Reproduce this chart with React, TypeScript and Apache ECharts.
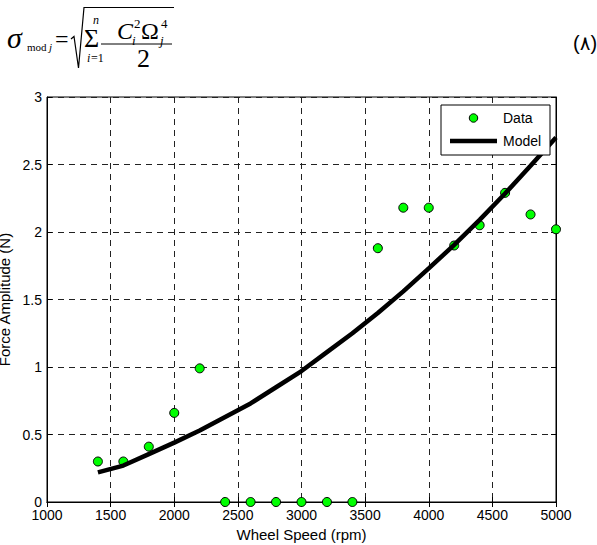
import React, { useEffect, useRef } from "react";
import * as echarts from "echarts";

const speeds = [1400, 1600, 1800, 2000, 2200, 2400, 2600, 2800, 3000, 3200, 3400, 3600, 3800, 4000, 4200, 4400, 4600, 4800, 5000];
const dataValues = [0.3, 0.3, 0.41, 0.66, 0.99, 0, 0, 0, 0, 0, 0, 1.88, 2.18, 2.18, 1.9, 2.05, 2.29, 2.13, 2.02];
const modelValues = [0.22, 0.27, 0.355, 0.44, 0.53, 0.63, 0.73, 0.85, 0.97, 1.11, 1.25, 1.4, 1.56, 1.73, 1.905, 2.09, 2.285, 2.49, 2.7];
const xTicks = [1000, 5000, 500];
const yTicks = [0, 3, 0.5];
const legendNames = ["Data", "Model"];

const SERIF = "'Liberation Serif', 'Times New Roman', serif";
const SANS = "'Liberation Sans', Arial, Helvetica, sans-serif";

function txt(text: string, x: number, baseline: number, size: number, italic = false, family = SERIF) {
  return {
    type: "text",
    x,
    y: baseline - 0.32 * size,
    z: 10,
    style: {
      text,
      fontSize: size,
      fontFamily: family,
      fontStyle: italic ? "italic" : "normal",
      fill: "#000",
      verticalAlign: "middle",
      align: "left",
    },
  };
}

export default function App() {
  const ref = useRef<HTMLDivElement>(null);
  useEffect(() => {
    document.body.style.margin = "0";
    const chart = echarts.init(ref.current!, null, { renderer: "svg" });
    const axisCommon = {
      type: "value",
      axisLine: { show: true, lineStyle: { color: "#000", width: 1 } },
      axisTick: { show: true, inside: true, length: 5, lineStyle: { color: "#000" } },
    };
    const option: any = {
      animation: false,
      backgroundColor: "#fff",
      grid: {
        left: 47, right: 41, top: 97, bottom: 43,
        outerBoundsMode: "none", containLabel: false,
        show: true, borderColor: "#000", borderWidth: 1, backgroundColor: "transparent",
      },
      xAxis: [
        {
          ...axisCommon,
          position: "bottom",
          min: xTicks[0],
          max: xTicks[1],
          interval: xTicks[2],
          name: "Wheel Speed (rpm)",
          nameLocation: "middle",
          nameGap: 23,
          nameTextStyle: { fontFamily: SANS, fontSize: 15, color: "#000" },
          axisLabel: { fontFamily: SANS, fontSize: 14, color: "#000", margin: 6, formatter: (v: number) => String(v) },
          splitLine: { show: true, lineStyle: { color: "#222", type: [6, 5], width: 1 } },
        },
        {
          ...axisCommon,
          position: "top",
          min: xTicks[0],
          max: xTicks[1],
          interval: xTicks[2],
          axisLabel: { show: false },
          splitLine: { show: false },
        },
      ],
      yAxis: [
        {
          ...axisCommon,
          position: "left",
          min: yTicks[0],
          max: yTicks[1],
          interval: yTicks[2],
          name: "Force Amplitude (N)",
          nameLocation: "middle",
          nameGap: 33,
          nameTextStyle: { fontFamily: SANS, fontSize: 15, color: "#000" },
          axisLabel: { fontFamily: SANS, fontSize: 14, color: "#000", margin: 5, formatter: (v: number) => String(v) },
          splitLine: { show: true, lineStyle: { color: "#222", type: [6, 5], width: 1 } },
        },
        {
          ...axisCommon,
          position: "right",
          min: yTicks[0],
          max: yTicks[1],
          interval: yTicks[2],
          axisLabel: { show: false },
          splitLine: { show: false },
        },
      ],
      series: [
        {
          name: legendNames[0],
          type: "scatter",
          data: speeds.map((s, i) => [s, dataValues[i]]),
          symbol: "circle",
          symbolSize: 9,
          itemStyle: { color: "#00ff00", borderColor: "#000", borderWidth: 1, opacity: 1 },
          z: 2,
        },
        {
          name: legendNames[1],
          type: "line",
          data: speeds.map((s, i) => [s, modelValues[i]]),
          showSymbol: false,
          symbol: "none",
          lineStyle: { color: "#000", width: 4.5 },
          z: 3,
        },
      ],
      graphic: [
        // legend
        { type: "rect", z: 20, shape: { x: 441, y: 105, width: 109, height: 50 }, style: { fill: "#fff", stroke: "#000", lineWidth: 1 } },
        { type: "circle", z: 21, shape: { cx: 473.5, cy: 118, r: 4.2 }, style: { fill: "#00ff00", stroke: "#000", lineWidth: 1 } },
        { type: "text", z: 21, x: 503, y: 118, style: { text: legendNames[0], fontFamily: SANS, fontSize: 14, fill: "#000", verticalAlign: "middle" } },
        { type: "line", z: 21, shape: { x1: 450, y1: 141, x2: 497, y2: 141 }, style: { stroke: "#000", lineWidth: 4.5 } },
        { type: "text", z: 21, x: 503, y: 141, style: { text: legendNames[1], fontFamily: SANS, fontSize: 14, fill: "#000", verticalAlign: "middle" } },
        // formula
        txt("σ", 7, 47, 30, true),
        txt("mod", 27, 51, 11),
        txt("j", 49, 51, 11, true),
        txt("=", 55, 47, 24),
        { type: "polyline", z: 10, shape: { points: [[71, 39], [74, 36.5], [78.5, 68], [84, 7.5], [174, 7.5]] }, style: { stroke: "#000", lineWidth: 1.2, fill: "none" } },
        txt("Σ", 84, 47, 26),
        txt("n", 93, 24, 12, true),
        txt("i", 87, 62, 12, true),
        txt("=1", 91, 62, 12),
        { type: "line", z: 10, shape: { x1: 101, y1: 44, x2: 172, y2: 44 }, style: { stroke: "#000", lineWidth: 1 } },
        txt("C", 117, 39, 24, true),
        txt("2", 134, 28, 13),
        txt("i", 132, 45, 13, true),
        txt("Ω", 141, 39, 24),
        txt("4", 161, 28, 13),
        txt("j", 160, 45, 13, true),
        txt("2", 137, 67, 26),
        { type: "text", z: 10, x: 573, y: 43, style: { text: "(۸)", fontSize: 20, fontFamily: "'Liberation Sans', 'DejaVu Sans', sans-serif", fill: "#000", verticalAlign: "middle" } },
      ],
    };
    chart.setOption(option);
    return () => chart.dispose();
  }, []);
  return <div ref={ref} style={{ width: 597, height: 545 }} />;
}
